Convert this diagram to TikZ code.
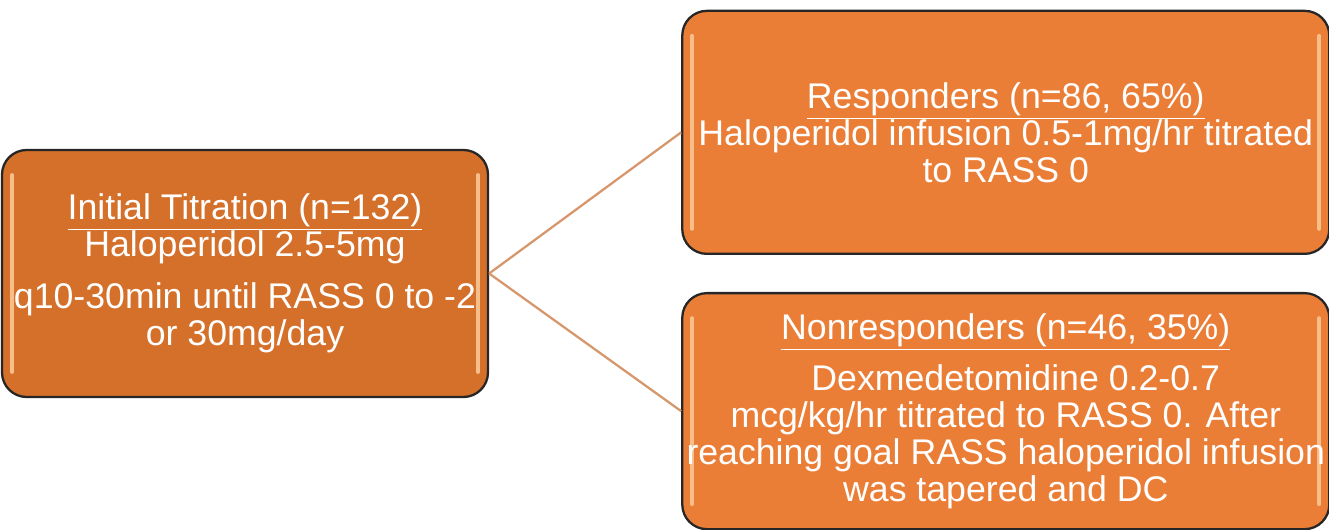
\documentclass[tikz,border=0pt]{standalone}
\usepackage{fontspec}
\setmainfont{Liberation Sans}
\usepackage{tikz}
\usetikzlibrary{positioning}
\definecolor{initfill}{HTML}{D4702A}
\definecolor{outfill}{HTML}{EB7E37}
\definecolor{linktan}{HTML}{D6976C}
\definecolor{glint}{HTML}{F7BE8A}
\tikzstyle{link}=[line width=1.3pt, color=linktan]

\begin{document}
\begin{tikzpicture}[node distance=0.37cm and 3.84cm,
  stagebox/.style={rectangle, draw=black!85, line width=1.3pt,
                   rounded corners=14pt, text=white, align=center,
                   inner sep=2pt, font=\fontsize{20.3}{21}\selectfont,
                   path picture={\draw[glint, line width=2.2pt, line cap=round]
                     ([shift={(0.2,-0.5)}]path picture bounding box.north west) --
                     ([shift={(0.2,0.5)}]path picture bounding box.south west)
                     ([shift={(-0.2,-0.5)}]path picture bounding box.north east) --
                     ([shift={(-0.2,0.5)}]path picture bounding box.south east);}},
  initbox/.style={stagebox, fill=initfill, minimum width=9.72cm, minimum height=4.94cm},
  outbox/.style={stagebox, fill=outfill, minimum width=12.94cm}
]
\useasboundingbox (0,0) rectangle (26.58,-10.6);

\node[initbox] (init) at (4.9,-5.47)
  {\underline{Initial Titration (n=132)}\\
   Haloperidol 2.5-5mg\\[0.3cm]
   q10-30min until RASS 0 to -2\\
   or 30mg/day};
\node[outbox, minimum height=4.86cm, above right=of init.east] (resp)
  {\underline{Responders (n=86, 65\%)}\\
   Haloperidol infusion 0.5-1mg/hr titrated\\
   to RASS 0};
\node[outbox, minimum height=4.72cm, below right=of init.east] (nonresp)
  {\underline{Nonresponders (n=46, 35\%)}\\[0.3cm]
   \ \ Dexmedetomidine 0.2-0.7\\
   mcg/kg/hr titrated to RASS 0. After\\
   reaching goal RASS haloperidol infusion\\
   was tapered and DC};

\draw[link] (init.east) -- (resp.west);
\draw[link] (init.east) -- (nonresp.west);
\end{tikzpicture}
\end{document}
